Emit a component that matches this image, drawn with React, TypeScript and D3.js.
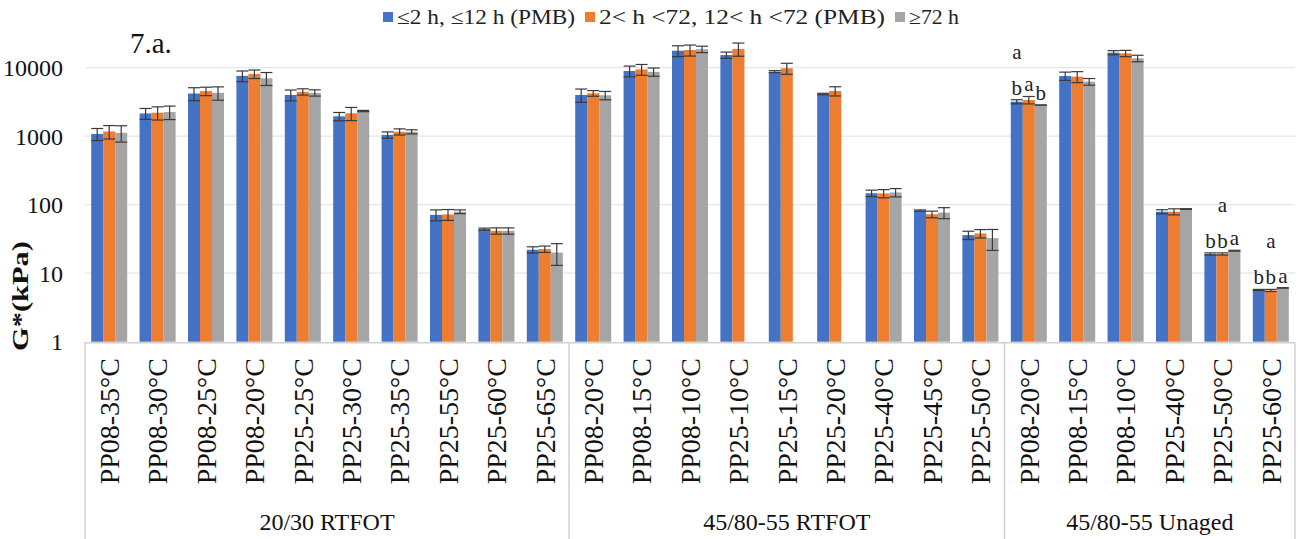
import React from 'react';
import * as d3 from 'd3';

const categories = [
  'PP08-35°C', 'PP08-30°C', 'PP08-25°C', 'PP08-20°C', 'PP25-25°C', 'PP25-30°C', 'PP25-35°C', 'PP25-55°C', 'PP25-60°C', 'PP25-65°C',
  'PP08-20°C', 'PP08-15°C', 'PP08-10°C', 'PP25-10°C', 'PP25-15°C', 'PP25-20°C', 'PP25-40°C', 'PP25-45°C', 'PP25-50°C',
  'PP08-20°C', 'PP08-15°C', 'PP08-10°C', 'PP25-40°C', 'PP25-50°C', 'PP25-60°C',
];
const groupLabels = ['20/30 RTFOT', '45/80-55 RTFOT', '45/80-55 Unaged'];
const groupSizes = [10, 9, 6];

const seriesNames = ['≤2 h, ≤12 h (PMB)', '2< h <72, 12< h <72 (PMB)', '≥72 h'];
const seriesColors = ['#4472C4', '#ED7D31', '#A5A5A5'];

const blueValues = [1080, 2150, 4200, 7600, 4000, 1950, 1045, 71, 44, 22, 4000, 8950, 17700, 15300, 8750, 4130, 147, 82, 36, 3190, 7570, 16600, 79, 19.1, 5.7];
const orangeValues = [1170, 2200, 4550, 8100, 4450, 2160, 1160, 72, 41.5, 22.5, 4230, 9450, 18100, 18800, 9800, 4570, 146, 72.5, 38, 3380, 7400, 16200, 79, 19.1, 5.6];
const grayValues: (number | null)[] = [1120, 2250, 4300, 7000, 4300, 2330, 1160, 79, 41.5, 20, 3950, 8700, 18600, null, null, null, 151, 76.5, 32.5, 2850, 6250, 13700, 86.5, 21.3, 6.1];

const blueErrors = [215, 390, 900, 1350, 720, 270, 110, 13, 1.5, 2.3, 880, 1600, 3200, 1600, 300, 100, 16, 2, 5, 220, 1050, 1150, 5.5, 0.7, 0.1];
const orangeErrors = [260, 480, 640, 1150, 470, 470, 120, 13, 4.4, 2.4, 400, 1700, 3300, 4100, 1800, 700, 20, 8, 5.3, 420, 1350, 1700, 8, 0.7, 0.2];
const grayErrors = [300, 500, 950, 1500, 450, 50, 80, 5, 4.4, 7, 550, 1200, 2000, 0, 0, 0, 21, 14, 11, 0, 700, 1500, 1, 0.3, 0.05];

const yTicks = [1, 10, 100, 1000, 10000];

// significance letters: category index, series index, letter, row (0 = just above bar, 1 = upper row)
const annotations = [
  { cat: 19, series: 0, text: 'b', row: 0 },
  { cat: 19, series: 1, text: 'a', row: 0 },
  { cat: 19, series: 2, text: 'b', row: 0 },
  { cat: 19, series: 0, text: 'a', row: 1 },
  { cat: 23, series: 0, text: 'b', row: 0 },
  { cat: 23, series: 1, text: 'b', row: 0 },
  { cat: 23, series: 2, text: 'a', row: 0 },
  { cat: 23, series: 1, text: 'a', row: 1 },
  { cat: 24, series: 0, text: 'b', row: 0 },
  { cat: 24, series: 1, text: 'b', row: 0 },
  { cat: 24, series: 2, text: 'a', row: 0 },
  { cat: 24, series: 1, text: 'a', row: 1 },
];

const W = 1299;
const H = 539;
const plotLeft = 85;
const plotRight = 1295;
const plotTop = 67.7;
const plotBottom = 341.7;
const FONT = "'Liberation Serif', 'Times New Roman', serif";

export default function App() {
  const keys = categories.map((_, i) => String(i));
  const x = d3.scaleBand<string>().domain(keys).range([plotLeft, plotRight]).paddingInner(0.256).paddingOuter(0.128);
  const xs = d3.scaleBand<number>().domain([0, 1, 2]).range([0, x.bandwidth()]).padding(0);
  const y = d3.scaleLog().domain([1, 10000]).range([plotBottom, plotTop]);

  const values = [blueValues, orangeValues, grayValues];
  const errors = [blueErrors, orangeErrors, grayErrors];

  const bars: JSX.Element[] = [];
  const errs: JSX.Element[] = [];
  categories.forEach((_, ci) => {
    for (let s = 0; s < 3; s++) {
      const v = values[s][ci];
      if (v == null) continue;
      const x0 = (x(String(ci)) as number) + (xs(s) as number);
      const bw = xs.bandwidth();
      bars.push(
        <rect key={`b${ci}-${s}`} x={x0} y={y(v)} width={bw} height={plotBottom - y(v)} fill={seriesColors[s]} />
      );
      const e = errors[s][ci];
      const cx = x0 + bw / 2;
      const yt = y(v + e);
      const yb = y(Math.max(v - e, 1));
      const cap = bw / 2;
      errs.push(
        <g key={`e${ci}-${s}`} stroke="#3a3a3a" strokeWidth={1.2}>
          <line x1={cx} x2={cx} y1={yt} y2={yb} />
          <line x1={cx - cap} x2={cx + cap} y1={yt} y2={yt} />
          <line x1={cx - cap} x2={cx + cap} y1={yb} y2={yb} />
        </g>
      );
    }
  });

  const boundaries: number[] = [plotLeft];
  const groupCenters: number[] = [];
  const step = x.step();
  let acc = 0;
  groupSizes.forEach((n) => {
    const start = plotLeft + acc * step;
    acc += n;
    const end = plotLeft + acc * step;
    boundaries.push(end);
    groupCenters.push((start + end) / 2);
  });

  const legendWidths = [178, 286, 50];
  let lx = 383;
  const legendItems = seriesNames.map((name, i) => {
    const item = (
      <g key={`l${i}`}>
        <rect x={lx} y={12} width={10} height={10} fill={seriesColors[i]} />
        <text x={lx + 14} y={24} fontSize={20} textLength={legendWidths[i]} lengthAdjust="spacingAndGlyphs" fill="#222">
          {name}
        </text>
      </g>
    );
    lx += 14 + legendWidths[i] + 10;
    return item;
  });

  return (
    <svg width={W} height={H} style={{ position: 'absolute', left: 0, top: 0, background: '#fff', fontFamily: FONT }}>
      <rect x={0} y={0} width={W} height={H} fill="#fff" />
      {yTicks.slice(1).map((t) => (
        <line key={`g${t}`} x1={plotLeft} x2={plotRight} y1={y(t)} y2={y(t)} stroke="#e6e6e6" strokeWidth={1.2} />
      ))}
      {yTicks.map((t) => (
        <text key={`t${t}`} x={63} y={y(t)} dy="0.35em" textAnchor="end" fontSize={24} fill="#111">
          {t}
        </text>
      ))}
      <text
        transform={`translate(28,296) rotate(-90)`}
        textAnchor="middle"
        fontSize={24}
        fontWeight="bold"
        textLength={110}
        lengthAdjust="spacingAndGlyphs"
        fill="#111"
      >
        G*(kPa)
      </text>
      <text x={130} y={53} fontSize={29} fill="#111">7.a.</text>
      {bars}
      {errs}
      {annotations.map((a, i) => {
        const v = values[a.series][a.cat] as number;
        const e = errors[a.series][a.cat];
        const cx = (x(String(a.cat)) as number) + (xs(a.series) as number) + xs.bandwidth() / 2;
        const yy = y(v + e) - 5 - a.row * 36;
        return (
          <text key={`a${i}`} x={cx} y={yy} textAnchor="middle" fontSize={21} fill="#222">
            {a.text}
          </text>
        );
      })}
      <line x1={plotLeft} x2={plotRight} y1={plotBottom + 1} y2={plotBottom + 1} stroke="#d0d0d0" strokeWidth={1.5} />
      {boundaries.map((b, i) => (
        <line key={`v${i}`} x1={b} x2={b} y1={plotBottom + 1} y2={H} stroke="#d0d0d0" strokeWidth={1.5} />
      ))}
      {categories.map((c, i) => {
        const cx = (x(String(i)) as number) + x.bandwidth() / 2;
        return (
          <text
            key={`c${i}`}
            transform={`translate(${cx},358) rotate(-90)`}
            textAnchor="end"
            dy="0.35em"
            fontSize={28}
            fill="#111"
          >
            {c}
          </text>
        );
      })}
      {groupLabels.map((g, i) => (
        <text key={`gl${i}`} x={groupCenters[i]} y={530} textAnchor="middle" fontSize={24} fill="#111">
          {g}
        </text>
      ))}
      {legendItems}
    </svg>
  );
}
